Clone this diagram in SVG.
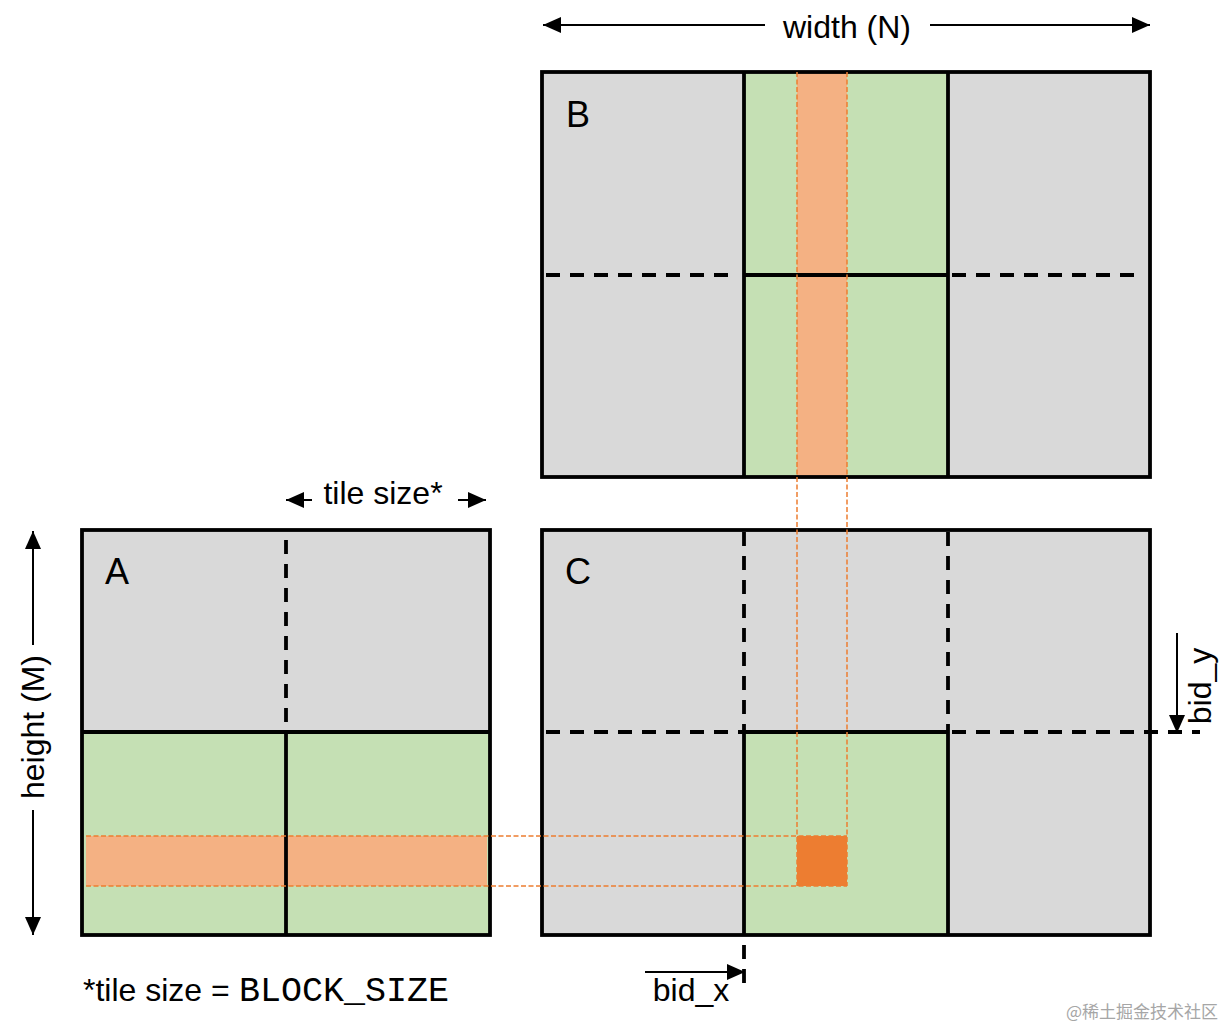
<svg xmlns="http://www.w3.org/2000/svg" width="1224" height="1028" viewBox="0 0 1224 1028">
<defs>
<style>
.gray{fill:#D9D9D9}
.green{fill:#C5E0B4}
.lor{fill:#F4B183}
.dor{fill:#ED7D31}
.solid{stroke:#000;stroke-width:3.8;fill:none}
.dash{stroke:#000;stroke-width:3.8;fill:none;stroke-dasharray:14 10}
.odash{stroke:#ED7D31;stroke-width:1.5;fill:none;stroke-dasharray:5 2.5}
.thin{stroke:#000;stroke-width:2;fill:none}
.lbl{font-family:"Liberation Sans",Arial,sans-serif;font-size:32px;fill:#000}
.big{font-family:"Liberation Sans",Arial,sans-serif;font-size:36px;fill:#000}
.mono{font-family:"Liberation Mono","DejaVu Sans Mono",monospace;font-size:35px;fill:#000}
</style>
<marker id="ahl" viewBox="0 0 10 10" refX="10" refY="5" markerWidth="18" markerHeight="16" markerUnits="userSpaceOnUse" orient="auto" preserveAspectRatio="none">
<path d="M0,0 L10,5 L0,10 Z" fill="#000"/>
</marker>
</defs>
<rect width="1224" height="1028" fill="#fff"/>

<g id="matrixB">
<rect class="gray" x="542" y="72" width="608" height="405"/>
<rect class="green" x="744" y="72" width="204" height="405"/>
<rect class="lor" x="797" y="72" width="50" height="405"/>
<line class="dash" x1="546" y1="275" x2="736" y2="275"/>
<line class="dash" x1="952" y1="275" x2="1140" y2="275"/>
<line class="solid" x1="744" y1="275" x2="948" y2="275"/>
<line class="solid" x1="744" y1="72" x2="744" y2="477"/>
<line class="solid" x1="948" y1="72" x2="948" y2="477"/>
<rect class="solid" x="542" y="72" width="608" height="405"/>
<text class="big" x="566" y="127">B</text>
</g>

<g id="matrixA">
<rect class="gray" x="82" y="530" width="408" height="405"/>
<rect class="green" x="82" y="732" width="408" height="203"/>
<rect class="lor" x="86" y="836" width="401" height="50"/>
<line class="dash" x1="286" y1="540" x2="286" y2="732"/>
<line class="solid" x1="82" y1="732" x2="490" y2="732"/>
<line class="solid" x1="286" y1="732" x2="286" y2="935"/>
<rect class="solid" x="82" y="530" width="408" height="405"/>
<text class="big" x="105" y="584">A</text>
</g>

<g id="matrixC">
<rect class="gray" x="542" y="530" width="608" height="405"/>
<rect class="green" x="744" y="732" width="204" height="203"/>
<rect class="dor" x="797" y="836" width="50" height="50"/>
<line class="dash" x1="744" y1="532" x2="744" y2="732"/>
<line class="dash" x1="948" y1="532" x2="948" y2="732"/>
<line class="dash" x1="546" y1="732" x2="744" y2="732"/>
<line class="dash" x1="952" y1="732" x2="1200" y2="732"/>
<line class="solid" x1="744" y1="732" x2="948" y2="732"/>
<line class="solid" x1="744" y1="732" x2="744" y2="935"/>
<line class="solid" x1="948" y1="732" x2="948" y2="935"/>
<line class="dash" x1="744" y1="945" x2="744" y2="990"/>
<rect class="solid" x="542" y="530" width="608" height="405"/>
<text class="big" x="565" y="584">C</text>
</g>

<g id="connectors">
<line class="odash" x1="86" y1="836" x2="847" y2="836"/>
<line class="odash" x1="86" y1="886" x2="847" y2="886"/>
<line class="odash" x1="797" y1="72" x2="797" y2="886"/>
<line class="odash" x1="847" y1="72" x2="847" y2="886"/>
<line class="thin" x1="765" y1="25" x2="543" y2="25" marker-end="url(#ahl)"/>
<line class="thin" x1="930" y1="25" x2="1150" y2="25" marker-end="url(#ahl)"/>
<line class="thin" x1="312" y1="500" x2="286" y2="500" marker-end="url(#ahl)"/>
<line class="thin" x1="458" y1="500" x2="486" y2="500" marker-end="url(#ahl)"/>
<line class="thin" x1="33" y1="645" x2="33" y2="531" marker-end="url(#ahl)"/>
<line class="thin" x1="33" y1="810" x2="33" y2="935" marker-end="url(#ahl)"/>
<line class="thin" x1="1177" y1="633" x2="1177" y2="733" marker-end="url(#ahl)"/>
<line class="thin" x1="645" y1="972" x2="745" y2="972" marker-end="url(#ahl)"/>
</g>

<g id="labels">
<text class="lbl" x="847" y="38" text-anchor="middle">width (N)</text>
<text class="lbl" x="383" y="504" text-anchor="middle">tile size*</text>
<text class="lbl" transform="translate(44,727) rotate(-90)" text-anchor="middle">height (M)</text>
<text class="lbl" transform="translate(1211,686) rotate(-90)" text-anchor="middle">bid_y</text>
<text class="lbl" x="691" y="1001" text-anchor="middle">bid_x</text>
<text class="lbl" x="83" y="1001">*tile size =</text>
<text class="mono" x="239" y="1001">BLOCK_SIZE</text>
<text x="1218" y="1018" text-anchor="end" style="font-family:'Noto Sans CJK SC','Noto Sans',sans-serif;font-size:17px;fill:#A6A6A6">@稀土掘金技术社区</text>
</g>
</svg>
